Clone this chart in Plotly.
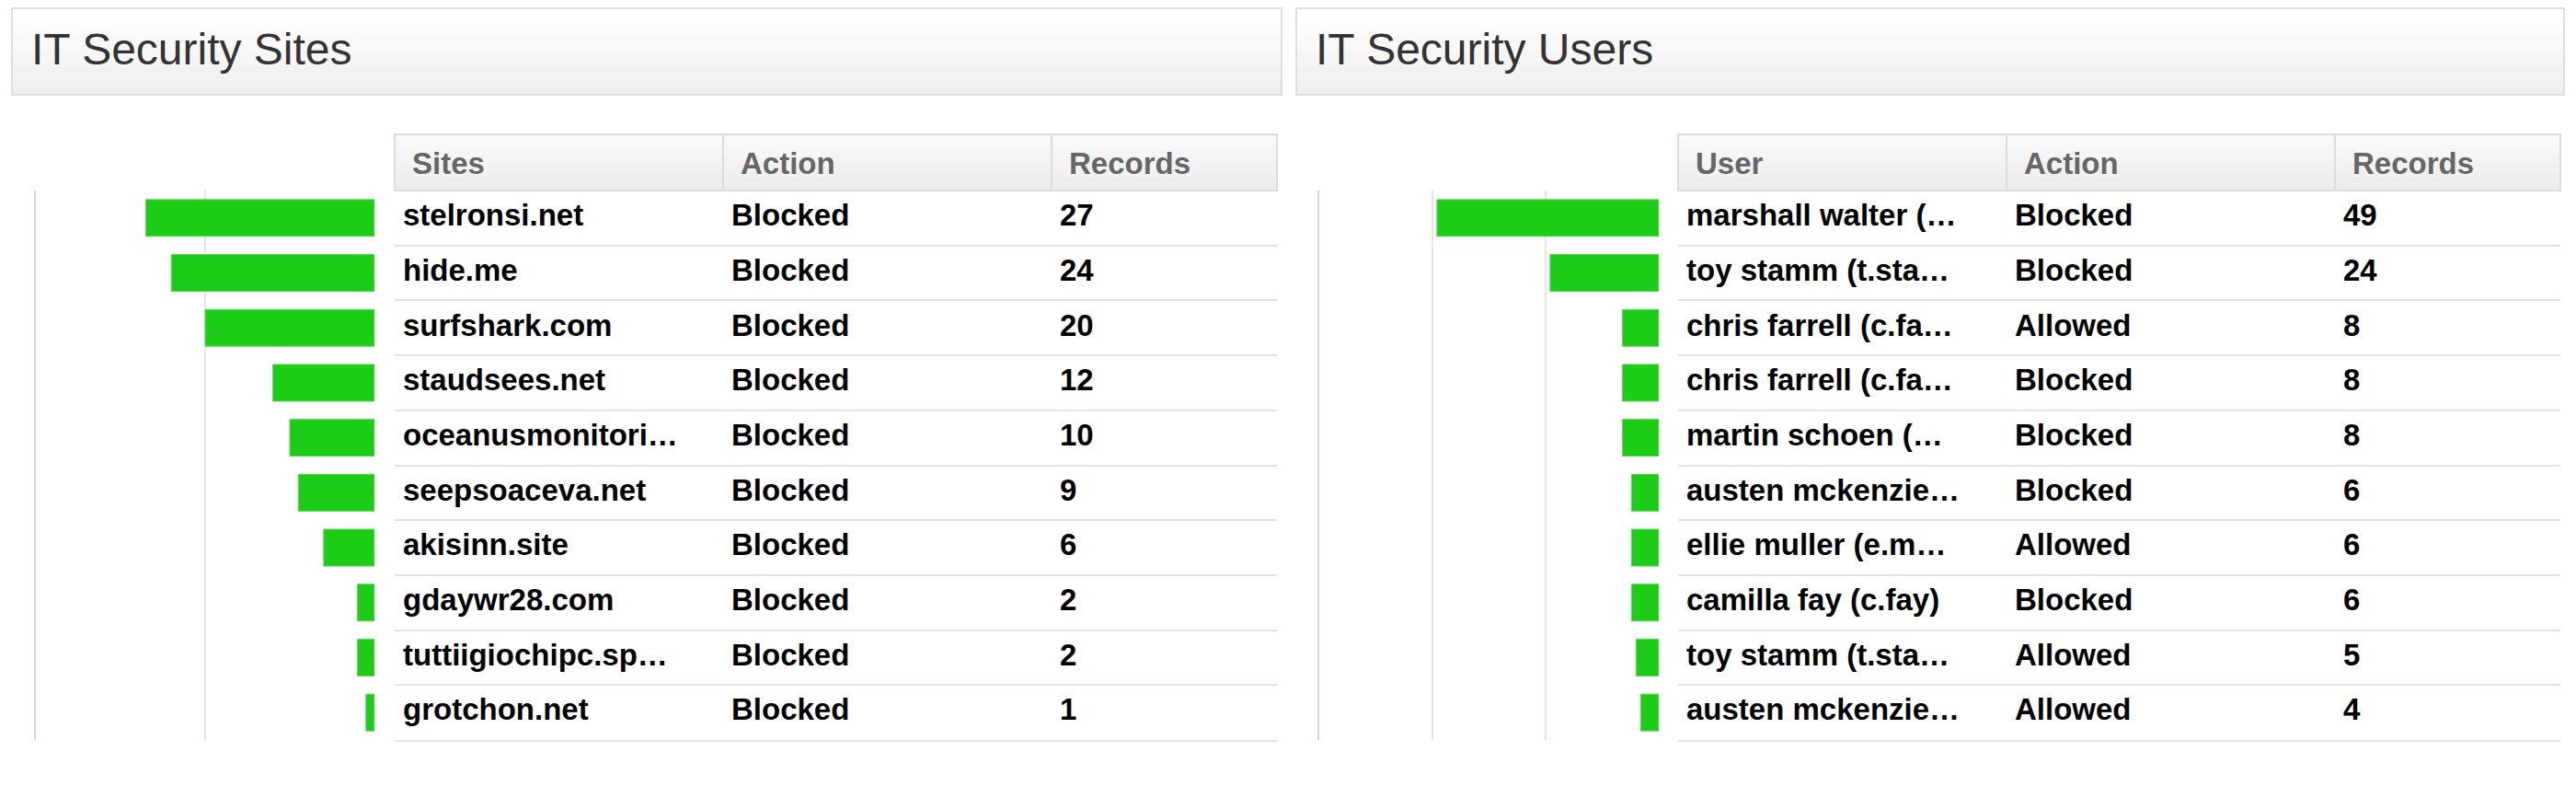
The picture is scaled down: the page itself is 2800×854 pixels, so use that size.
import plotly.graph_objects as go

# page body has an 8px default margin: lay out in reference pixels, shifted by it
OFF = 8
W, H = 2800 - OFF, 854 - OFF

# ---------------- data ----------------
site_names = ["stelronsi.net", "hide.me", "surfshark.com", "staudsees.net", "oceanusmonitori…",
              "seepsoaceva.net", "akisinn.site", "gdaywr28.com", "tuttiigiochipc.sp…", "grotchon.net"]
site_actions = ["Blocked", "Blocked", "Blocked", "Blocked", "Blocked",
                "Blocked", "Blocked", "Blocked", "Blocked", "Blocked"]
site_records = [27, 24, 20, 12, 10, 9, 6, 2, 2, 1]

user_names = ["marshall walter (…", "toy stamm (t.sta…", "chris farrell (c.fa…", "chris farrell (c.fa…",
              "martin schoen (…", "austen mckenzie…", "ellie muller (e.m…", "camilla fay (c.fay)",
              "toy stamm (t.sta…", "austen mckenzie…"]
user_actions = ["Blocked", "Blocked", "Allowed", "Blocked", "Blocked",
                "Blocked", "Allowed", "Blocked", "Allowed", "Allowed"]
user_records = [49, 24, 8, 8, 8, 6, 6, 6, 5, 4]

panel_titles = ["IT Security Sites", "IT Security Users"]
site_headers = ["Sites", "Action", "Records"]
user_headers = ["User", "Action", "Records"]
site_axis_ticks = [0, 20, 40]
user_axis_ticks = [0, 25, 50, 75]

# ---------------- styling ----------------
FONT = "Liberation Sans, Arial, Helvetica, sans-serif"
GREEN = "#1ccc16"
GRID = "#e6e6e6"
AXLINE = "#ccd6eb"
SEP = "#e3e3e3"


def px(x):
    return (x - OFF) / W


def py(y):
    return 1 - (y - OFF) / H


fig = go.Figure()

panels = [
    dict(box=(13, 1393), bars=(39, 407), table=(429, 1388), cols=(429, 786, 1143),
         names=site_names, actions=site_actions, records=site_records,
         headers=site_headers, ticks=site_axis_ticks, title=panel_titles[0]),
    dict(box=(1409, 2787), bars=(1434, 1803), table=(1824, 2783), cols=(1824, 2181, 2538),
         names=user_names, actions=user_actions, records=user_records,
         headers=user_headers, ticks=user_axis_ticks, title=panel_titles[1]),
]

ROW_TOP, ROW_BOT = 207, 804
HDR_TOP = 146
BOX_TOP, BOX_BOT = 9, 103

shapes = []
annotations = []
layout_axes = {}

for i, p in enumerate(panels):
    n = len(p["names"])
    idx = list(range(n))
    xa_bar = "x" if i == 0 else f"x{2 * i + 1}"
    ya_bar = "y" if i == 0 else f"y{2 * i + 1}"
    xa_tab = f"x{2 * i + 2}"
    ya_tab = f"y{2 * i + 2}"
    kxb = "xaxis" if i == 0 else f"xaxis{2 * i + 1}"
    kyb = "yaxis" if i == 0 else f"yaxis{2 * i + 1}"
    kxt = f"xaxis{2 * i + 2}"
    kyt = f"yaxis{2 * i + 2}"

    ydom = [py(ROW_BOT), py(ROW_TOP)]
    yrange = [n - 0.5, -0.5]

    # bars
    fig.add_trace(go.Bar(
        x=p["records"], y=idx, orientation="h",
        marker=dict(color=GREEN, line=dict(color="#5ad955", width=1)),
        xaxis=xa_bar, yaxis=ya_bar, showlegend=False, hoverinfo="x",
    ))
    layout_axes[kxb] = dict(
        domain=[px(p["bars"][0]), px(p["bars"][1])],
        range=[max(p["ticks"]), 0], tickvals=p["ticks"], showticklabels=False,
        showgrid=True, gridcolor=GRID, gridwidth=2, zeroline=False, showline=False,
        ticks="", anchor=ya_bar, fixedrange=True,
    )
    layout_axes[kyb] = dict(
        domain=ydom, range=yrange, showgrid=False, showticklabels=False, zeroline=False,
        showline=True, linecolor=AXLINE, linewidth=2, ticks="", anchor=xa_bar, fixedrange=True,
    )

    # table text
    col_offsets = [c - p["table"][0] + 9 for c in p["cols"]]
    for off, values in zip(col_offsets, [p["names"], p["actions"], [str(v) for v in p["records"]]]):
        fig.add_trace(go.Scatter(
            x=[off] * n, y=idx, text=values, mode="text", textposition="middle right",
            textfont=dict(family=FONT, size=33, color="#000000", weight="bold"),
            xaxis=xa_tab, yaxis=ya_tab, showlegend=False, hoverinfo="skip",
        ))
    layout_axes[kxt] = dict(
        domain=[px(p["table"][0]), px(p["table"][1])],
        range=[0, p["table"][1] - p["table"][0]], showgrid=False, showticklabels=False,
        zeroline=False, showline=True, linecolor=SEP, linewidth=2, ticks="",
        anchor=ya_tab, fixedrange=True,
    )
    layout_axes[kyt] = dict(
        domain=ydom, range=yrange, tickvals=[k + 0.5 for k in idx], showticklabels=False,
        showgrid=True, gridcolor=SEP, gridwidth=2, zeroline=False, showline=False, ticks="",
        anchor=xa_tab, fixedrange=True,
    )

    # title box with soft vertical gradient
    bx0, bx1 = p["box"]
    nb = 12
    for b in range(nb):
        t = b / (nb - 1)
        c = int(round(255 - 16 * t))
        y0 = BOX_TOP + (BOX_BOT - BOX_TOP) * b / nb
        y1 = BOX_TOP + (BOX_BOT - BOX_TOP) * (b + 1) / nb
        shapes.append(dict(type="rect", xref="paper", yref="paper", layer="below",
                           x0=px(bx0), x1=px(bx1), y0=py(y1), y1=py(y0),
                           fillcolor=f"rgb({c},{c},{c})", line=dict(width=0)))
    shapes.append(dict(type="rect", xref="paper", yref="paper", layer="above",
                       x0=px(bx0), x1=px(bx1), y0=py(BOX_BOT), y1=py(BOX_TOP),
                       fillcolor="rgba(0,0,0,0)", line=dict(color="#dedede", width=2)))
    annotations.append(dict(text=p["title"], xref="paper", yref="paper", x=px(bx0 + 19),
                            y=py(54), xanchor="left", yanchor="middle", showarrow=False,
                            font=dict(family=FONT, size=48, color="#333333")))

    # table header
    tx0, tx1 = p["table"]
    nb = 8
    for b in range(nb):
        t = b / (nb - 1)
        c = int(round(250 - 14 * t))
        y0 = HDR_TOP + (ROW_TOP - HDR_TOP) * b / nb
        y1 = HDR_TOP + (ROW_TOP - HDR_TOP) * (b + 1) / nb
        shapes.append(dict(type="rect", xref="paper", yref="paper", layer="below",
                           x0=px(tx0), x1=px(tx1), y0=py(y1), y1=py(y0),
                           fillcolor=f"rgb({c},{c},{c})", line=dict(width=0)))
    shapes.append(dict(type="rect", xref="paper", yref="paper", layer="above",
                       x0=px(tx0), x1=px(tx1), y0=py(ROW_TOP), y1=py(HDR_TOP),
                       fillcolor="rgba(0,0,0,0)", line=dict(color="#dcdcdc", width=2)))
    for c in p["cols"][1:]:
        shapes.append(dict(type="line", xref="paper", yref="paper", layer="above",
                           x0=px(c), x1=px(c), y0=py(ROW_TOP), y1=py(HDR_TOP),
                           line=dict(color="#dcdcdc", width=2)))
    for c, h in zip(p["cols"], p["headers"]):
        annotations.append(dict(text=h, xref="paper", yref="paper", x=px(c + 17),
                                y=py(177), xanchor="left", yanchor="middle", showarrow=False,
                                font=dict(family=FONT, size=33, color="#666666", weight="bold")))

fig.update_layout(
    width=W, height=H, margin=dict(l=0, r=0, t=0, b=0),
    paper_bgcolor="white", plot_bgcolor="rgba(0,0,0,0)",
    bargap=0.33, showlegend=False,
    shapes=shapes, annotations=annotations,
    **layout_axes,
)

fig.write_html("out.html", config={"displayModeBar": False})
